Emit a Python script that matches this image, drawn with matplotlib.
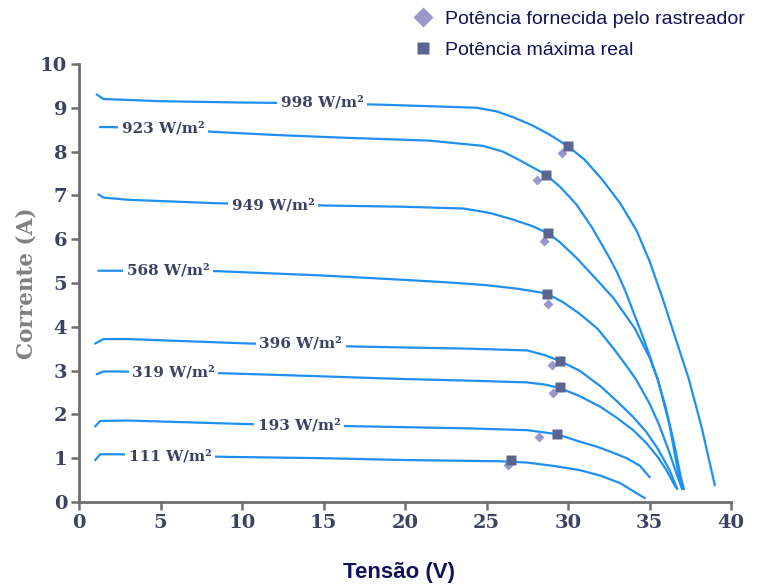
import matplotlib
matplotlib.use('Agg')
import matplotlib.pyplot as plt
from matplotlib.lines import Line2D

###### I-V curves (tensao V, corrente A) ######
v998 = [1.1, 1.5, 5, 10, 15, 18.6, 22, 24.4, 25.6, 26.6, 27.8, 28.9, 30.0, 31.0, 32.1, 33.2, 34.2, 35.0, 35.8, 36.4, 37.4, 38.2, 39.0]
i998 = [9.3, 9.2, 9.15, 9.12, 9.1, 9.07, 9.03, 9.0, 8.92, 8.79, 8.6, 8.38, 8.12, 7.82, 7.36, 6.82, 6.2, 5.5, 4.65, 3.96, 2.82, 1.7, 0.39]

v923 = [1.3, 1.9, 5, 8.3, 12, 16, 21.5, 24.8, 26.0, 27.1, 28.65, 29.5, 30.5, 31.5, 32.5, 33.0, 33.5, 34.4, 35.0, 35.5, 36.0, 36.5, 36.9, 37.1]
i923 = [8.56, 8.56, 8.52, 8.45, 8.38, 8.32, 8.25, 8.13, 8.0, 7.79, 7.47, 7.2, 6.8, 6.25, 5.6, 5.25, 4.83, 3.96, 3.35, 2.8, 2.15, 1.35, 0.6, 0.3]

v949 = [1.2, 1.5, 3, 8.5, 15, 20, 23.6, 25.2, 26.6, 27.8, 28.8, 29.5, 30.5, 31.5, 32.8, 34.1, 35.0, 35.5, 36.2, 36.8, 37.0]
i949 = [7.02, 6.95, 6.9, 6.82, 6.77, 6.74, 6.7, 6.6, 6.45, 6.3, 6.13, 5.93, 5.58, 5.18, 4.65, 3.96, 3.3, 2.8, 1.8, 0.6, 0.3]

v568 = [1.2, 2.3, 8.5, 15, 20, 22.8, 25, 26.9, 28.7, 29.7, 30.7, 31.8, 32.8, 33.6, 34.2, 35.0, 35.6, 36.2, 36.7, 37.0]
i568 = [5.28, 5.28, 5.27, 5.17, 5.07, 5.01, 4.95, 4.87, 4.76, 4.56, 4.3, 3.96, 3.5, 3.1, 2.78, 2.25, 1.75, 1.15, 0.6, 0.3]

v396 = [1.0, 1.5, 3, 10.3, 16.9, 19.7, 24, 27.5, 28.6, 29.5, 30.7, 32.0, 33.0, 34.0, 34.8, 35.5, 36.2, 36.7]
i396 = [3.62, 3.72, 3.72, 3.62, 3.55, 3.53, 3.5, 3.46, 3.35, 3.22, 3.0, 2.64, 2.3, 1.94, 1.6, 1.22, 0.75, 0.3]

v319 = [1.1, 1.5, 2.4, 8.8, 14, 19.7, 24, 27.5, 28.6, 29.5, 30.7, 32.0, 33.0, 34.0, 34.8, 35.5, 36.0, 36.6]
i319 = [2.92, 2.98, 2.98, 2.94, 2.88, 2.81, 2.77, 2.73, 2.68, 2.6, 2.42, 2.17, 1.92, 1.64, 1.35, 1.03, 0.75, 0.34]

v193 = [1.0, 1.3, 3, 10.2, 16.9, 19.7, 24, 27.5, 29.3, 30.7, 31.8, 32.8, 33.6, 34.4, 35.0]
i193 = [1.73, 1.85, 1.86, 1.78, 1.73, 1.71, 1.68, 1.64, 1.55, 1.38, 1.26, 1.12, 1.0, 0.83, 0.57]

v111 = [1.0, 1.3, 2.4, 9.1, 15, 19.7, 25.8, 27.5, 29, 30.7, 32, 33.2, 34.7]
i111 = [0.96, 1.09, 1.09, 1.03, 1.0, 0.96, 0.93, 0.9, 0.83, 0.73, 0.6, 0.43, 0.09]

###### curve labels (text, V, I) ######
lab_txt = ['998 W/m²', '923 W/m²', '949 W/m²', '568 W/m²', '396 W/m²', '319 W/m²', '193 W/m²', '111 W/m²']
lab_v = [14.9, 5.15, 11.9, 5.45, 13.6, 5.8, 13.5, 5.6]
lab_i = [9.13, 8.52, 6.77, 5.28, 3.62, 2.96, 1.75, 1.03]

###### MPPT points ######
rast_v = [29.6, 28.1, 28.5, 28.8, 29.0, 29.1, 28.2, 26.3]
rast_i = [7.97, 7.36, 5.97, 4.51, 3.12, 2.48, 1.48, 0.84]
real_v = [30.0, 28.65, 28.8, 28.7, 29.5, 29.5, 29.3, 26.5]
real_i = [8.12, 7.47, 6.15, 4.76, 3.21, 2.62, 1.55, 0.96]

blue = '#1f8ff0'
txtc = '#3c4262'
gray = '#6e6e6e'

fig = plt.figure(figsize=(7.57, 5.87), dpi=100)
ax = fig.add_axes([0.1044, 0.1448, 0.8613, 0.7462])

curves = [(v998, i998), (v923, i923), (v949, i949), (v568, i568),
          (v396, i396), (v319, i319), (v193, i193), (v111, i111)]
for v, i in curves:
    ax.plot(v, i, color=blue, lw=1.6, zorder=2, solid_joinstyle='round')

for t, x, y in zip(lab_txt, lab_v, lab_i):
    ax.text(x, y, t, ha='center', va='center', fontsize=11, fontweight='bold',
            family='DejaVu Serif', color=txtc, zorder=3,
            bbox=dict(facecolor='white', edgecolor='none', pad=2.5))

ax.plot(rast_v, rast_i, 'D', color='#9b97cb', ms=5, mec='none', zorder=4)
ax.plot(real_v, real_i, 's', color='#5a6690', ms=7.5, mec='none', zorder=5)

ax.set_xlim(0, 40)
ax.set_ylim(0, 10)
ax.set_xticks(range(0, 41, 5))
ax.set_yticks(range(0, 11))
for s in ['top', 'right']:
    ax.spines[s].set_visible(False)
for s in ['left', 'bottom']:
    ax.spines[s].set_color(gray)
    ax.spines[s].set_linewidth(2)
ax.tick_params(direction='out', length=5.5, width=1.8, color=gray, pad=3,
               labelsize=14, labelcolor=txtc)
for lb in ax.get_xticklabels() + ax.get_yticklabels():
    lb.set_family('DejaVu Serif')
    lb.set_fontweight('bold')

ax.set_ylabel('Corrente (A)', family='DejaVu Serif', fontweight='bold',
              fontsize=15.5, color='#808080', labelpad=2)
ax.set_xlabel('Tensão (V)', family='Liberation Sans', fontweight='bold',
              fontsize=16, color='#12125a')
ax.xaxis.set_label_coords(0.49, -0.138)

h1 = Line2D([], [], marker='D', ls='none', color='#9b97cb', ms=10, mec='none')
h2 = Line2D([], [], marker='s', ls='none', color='#5a6690', ms=8, mec='none')
fig.legend([h1, h2], ['Potência fornecida pelo rastreador', 'Potência máxima real'],
           loc='upper left', bbox_to_anchor=(0.52, 1.012), frameon=False,
           prop={'family': 'Liberation Sans', 'size': 14}, labelcolor='#12125a',
           handletextpad=0.55, labelspacing=0.68, handlelength=1.2)

fig.savefig('out.png', dpi=100)
